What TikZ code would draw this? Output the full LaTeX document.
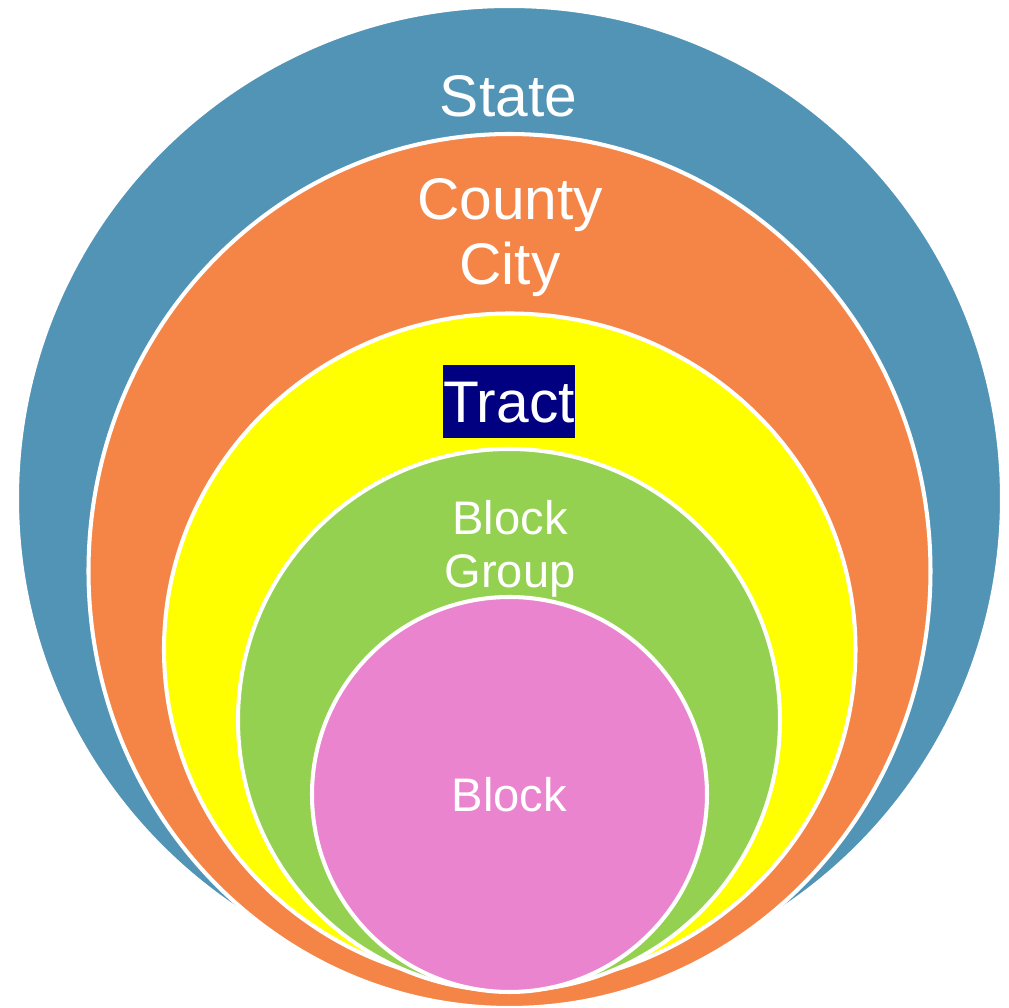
\documentclass[tikz,border=0pt]{standalone}
\usepackage{fontspec}
\setmainfont{Liberation Sans}

\definecolor{stateblue}{HTML}{5294B5}
\definecolor{countyorange}{HTML}{F58547}
\definecolor{tractyellow}{HTML}{FFFF00}
\definecolor{groupgreen}{HTML}{94D150}
\definecolor{blockpink}{HTML}{EB84CE}
\definecolor{tractnavy}{HTML}{000080}

\tikzset{
    ring/.style={draw=white, line width=1.15pt},
    biglabel/.style={text=white, align=center, inner sep=0pt, font=\fontsize{16.7}{18.5}\selectfont},
    smalllabel/.style={text=white, align=center, inner sep=0pt, font=\fontsize{13.4}{15.1}\selectfont}
}

\begin{document}
\begin{tikzpicture}
            \useasboundingbox (0,0) rectangle (10.09,-10.08);

            % Nested regions, largest first
            \draw[ring, fill=stateblue] (5.095,-4.985) circle [radius=4.925cm];
            \draw[ring, fill=countyorange] (5.095,-5.71) ellipse [x radius=4.21cm, y radius=4.37cm];
            \draw[ring, fill=tractyellow] (5.0975,-6.495) ellipse [x radius=3.4575cm, y radius=3.36cm];
            \draw[ring, fill=groupgreen] (5.09,-7.20) circle [radius=2.71cm];
            \draw[ring, fill=blockpink] (5.095,-7.945) circle [radius=1.975cm];

            % Labels (base of a two-line label is its last line)
            \node[biglabel, anchor=base] (state) at (5.085,-1.17) {State};
            \node[biglabel, anchor=base] (county) at (5.10,-2.85) {County\\City};
            \node[biglabel, anchor=base, fill=tractnavy, text height=0.58cm, text depth=0.15cm,
                  minimum width=1.32cm] (tract) at (5.09,-4.23) {Tract};
            \node[smalllabel, anchor=base] (group) at (5.10,-5.88) {Block\\Group};
            \node[smalllabel, anchor=base] (block) at (5.095,-8.12) {Block};

        \end{tikzpicture}
\end{document}
